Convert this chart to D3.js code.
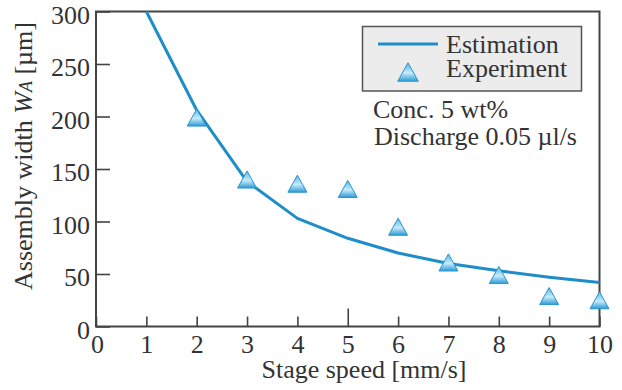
<!DOCTYPE html>
<html>
<head>
<meta charset="utf-8">
<script src="https://cdn.jsdelivr.net/npm/d3@7/dist/d3.min.js"></script>
<style>
  body { margin: 0; background: #fff; }
  svg text { font-family: "Liberation Serif", Tinos, "Times New Roman", "DejaVu Serif", serif; fill: #333; }
</style>
</head>
<body>
<svg id="chart" width="622" height="390"></svg>
<script>
'use strict';

var speeds = [1, 2, 3, 4, 5, 6, 7, 8, 9, 10];
var estimation = [300, 206, 138, 103, 84, 70, 60, 53, 47, 42];
var expSpeeds = [2, 3, 4, 5, 6, 7, 8, 9, 10];
var experiment = [199, 140, 136, 131, 95, 61, 49, 29, 25];
var xTicks = [0, 1, 2, 3, 4, 5, 6, 7, 8, 9, 10];
var yTicks = [0, 50, 100, 150, 200, 250, 300];

var blue = "#1f8dc9";
var axisColor = "#444";
var serif = "'Liberation Serif', Tinos, 'Times New Roman', 'DejaVu Serif', serif";

var svg = d3.select("#chart");

var x = d3.scaleLinear().domain([0, 10]).range([96, 599.5]);
var y = d3.scaleLinear().domain([0, 300]).range([326.5, 11.5]);

// gradient for triangles
var defs = svg.append("defs");
var grad = defs.append("linearGradient")
  .attr("id", "triGrad")
  .attr("x1", 0).attr("y1", 0).attr("x2", 0).attr("y2", 1);
grad.append("stop").attr("offset", "0%").attr("stop-color", "#4fb6e6");
grad.append("stop").attr("offset", "55%").attr("stop-color", "#c6ebfa");
grad.append("stop").attr("offset", "100%").attr("stop-color", "#2b9ad6");

// triangle centred on its bounding box
var triangle = {
  draw: function(context, size) {
    var w = Math.sqrt(size) * 1.55, h = w * 0.9;
    context.moveTo(0, -h / 2);
    context.lineTo(w / 2, h / 2);
    context.lineTo(-w / 2, h / 2);
    context.closePath();
  }
};

// axes
var xAxis = d3.axisBottom(x).tickValues(xTicks).tickSizeInner(-10).tickSizeOuter(0).tickPadding(8);
var gx = svg.append("g").attr("transform", "translate(0," + y(0) + ")").call(xAxis)
  .attr("font-family", null).attr("font-size", null);
gx.select(".domain").remove();
gx.selectAll(".tick line").attr("stroke", axisColor).attr("stroke-width", 1.6)
  .attr("y2", function(d) { return d === 5 ? -18 : -10; });
gx.selectAll(".tick text")
  .attr("font-size", 26).attr("fill", "#333")
  .attr("y", 26).attr("dy", 0)
  .attr("dx", function(d) { return d === 0 ? 1 : 0; });

var yAxis = d3.axisLeft(y).tickValues(yTicks).tickSizeInner(-14).tickSizeOuter(0).tickPadding(6);
var gy = svg.append("g").attr("transform", "translate(" + x(0) + ",0)").call(yAxis)
  .attr("font-family", null).attr("font-size", null);
gy.select(".domain").remove();
gy.selectAll(".tick line").attr("stroke", axisColor).attr("stroke-width", 1.6);
gy.selectAll(".tick text")
  .attr("font-size", 26).attr("fill", "#333")
  .attr("dy", "0.45em");

// frame
svg.append("rect")
  .attr("x", x(0)).attr("y", y(300))
  .attr("width", x(10) - x(0)).attr("height", y(0) - y(300))
  .attr("fill", "none").attr("stroke", axisColor).attr("stroke-width", 2);

// estimation line
var line = d3.line()
  .x(function(d, i) { return x(speeds[i]); })
  .y(function(d) { return y(d); });
svg.append("path")
  .datum(estimation)
  .attr("d", line)
  .attr("fill", "none").attr("stroke", blue).attr("stroke-width", 3)
  .attr("stroke-linejoin", "round");

// experiment markers
var sym = d3.symbol().type(triangle).size(150);
svg.selectAll(".exp")
  .data(experiment)
  .enter().append("path")
  .attr("class", "exp")
  .attr("d", sym)
  .attr("transform", function(d, i) { return "translate(" + x(expSpeeds[i]) + "," + y(d) + ")"; })
  .attr("fill", "url(#triGrad)")
  .attr("stroke", "#2a94cf").attr("stroke-width", 1);

// legend
var lg = svg.append("g");
lg.append("rect")
  .attr("x", 362.5).attr("y", 26.5).attr("width", 219).attr("height", 64.5)
  .attr("fill", "#ececec").attr("stroke", "#555").attr("stroke-width", 1.5);
lg.append("line")
  .attr("x1", 378).attr("x2", 438).attr("y1", 44).attr("y2", 44)
  .attr("stroke", blue).attr("stroke-width", 3);
lg.append("path")
  .attr("d", d3.symbol().type(triangle).size(175))
  .attr("transform", "translate(408,72)")
  .attr("fill", "url(#triGrad)").attr("stroke", "#2a94cf").attr("stroke-width", 1);
lg.append("text").attr("x", 446).attr("y", 53).attr("font-size", 26).text("Estimation");
lg.append("text").attr("x", 446).attr("y", 77).attr("font-size", 26).text("Experiment");

// condition notes
svg.append("text").attr("x", 373).attr("y", 118).attr("font-size", 26).text("Conc. 5 wt%");
svg.append("text").attr("x", 374).attr("y", 145).attr("font-size", 26).text("Discharge 0.05 \u00b5l/s");

// axis titles
svg.append("text")
  .attr("x", 364).attr("y", 378)
  .attr("text-anchor", "middle").attr("font-size", 26)
  .text("Stage speed [mm/s]");

var yt = svg.append("text")
  .attr("transform", "translate(32,156) rotate(-90)")
  .attr("text-anchor", "middle").attr("font-size", 26);
yt.append("tspan").text("Assembly width ");
yt.append("tspan").attr("font-style", "italic").text("W");
yt.append("tspan").attr("font-style", "italic").attr("font-size", 18).text("A");
yt.append("tspan").text(" [\u00b5m]");

svg.selectAll("text").style("font-family", serif);
</script>
</body>
</html>
